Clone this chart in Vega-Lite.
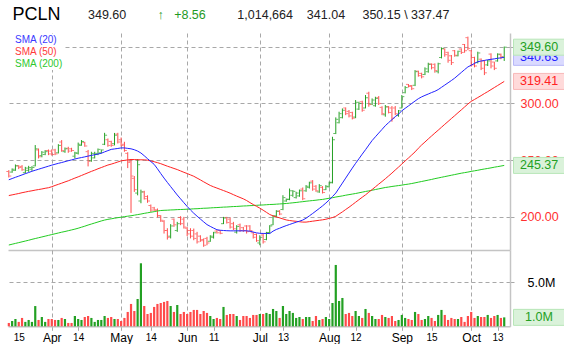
{
"$schema": "https://vega.github.io/schema/vega-lite/v6.json",
"background": "white",
"padding": {"left": 4, "top": 6, "right": 0, "bottom": 0},
"config": {"font": "Liberation Sans", "view": {"stroke": null}},
"title": {"text": "PCLN", "fontSize": 18, "fontWeight": "normal", "color": "#000000", "anchor": "start", "frame": "group", "dx": 4.5, "offset": -15.5, "font": "Liberation Sans"},
"spacing": 0,
"datasets": {"px": [
{"d":"2010-03-15","o":240,"h":241.2,"l":234.7,"c":236,"v":380000,"s20":232.7,"s50":218.8,"s200":175.2},
{"d":"2010-03-16","o":239.5,"h":242.7,"l":238.9,"c":242,"v":600000,"s20":233.8,"s50":219.4,"s200":175.9},
{"d":"2010-03-17","o":241,"h":246.2,"l":240.6,"c":245,"v":830000,"s20":234.9,"s50":220,"s200":176.6},
{"d":"2010-03-18","o":245,"h":245.6,"l":242.1,"c":243.5,"v":500000,"s20":235.9,"s50":220.6,"s200":177.3},
{"d":"2010-03-19","o":244.5,"h":245.6,"l":240.6,"c":241.5,"v":950000,"s20":237,"s50":221.3,"s200":178},
{"d":"2010-03-22","o":239,"h":244.1,"l":238.3,"c":243,"v":500000,"s20":238.1,"s50":221.9,"s200":178.7},
{"d":"2010-03-23","o":241,"h":245,"l":239.7,"c":243.5,"v":720000,"s20":239.1,"s50":222.5,"s200":179.4},
{"d":"2010-03-24","o":242,"h":244.7,"l":240.6,"c":243.5,"v":500000,"s20":240.2,"s50":223,"s200":180.2},
{"d":"2010-03-25","o":245,"h":263.3,"l":244.5,"c":260,"v":2300000,"s20":241.1,"s50":223.6,"s200":180.9},
{"d":"2010-03-26","o":259,"h":260.3,"l":251.5,"c":253,"v":720000,"s20":242,"s50":224.1,"s200":181.6},
{"d":"2010-03-29","o":254,"h":258,"l":252.5,"c":257,"v":1060000,"s20":242.9,"s50":224.6,"s200":182.3},
{"d":"2010-03-30","o":255,"h":258.9,"l":254.4,"c":257.5,"v":500000,"s20":243.8,"s50":225.2,"s200":183},
{"d":"2010-03-31","o":258.5,"h":259.4,"l":254.4,"c":255.5,"v":830000,"s20":244.7,"s50":225.7,"s200":183.7},
{"d":"2010-04-01","o":258,"h":259.5,"l":254,"c":255,"v":830000,"s20":245.6,"s50":226.6,"s200":184.4},
{"d":"2010-04-05","o":259,"h":260,"l":254.4,"c":255.5,"v":720000,"s20":246.4,"s50":227.7,"s200":185.1},
{"d":"2010-04-06","o":256.5,"h":264.1,"l":255.9,"c":263,"v":720000,"s20":247.2,"s50":228.7,"s200":185.8},
{"d":"2010-04-07","o":266,"h":267.7,"l":257.4,"c":258.5,"v":950000,"s20":247.9,"s50":229.7,"s200":186.5},
{"d":"2010-04-08","o":257.5,"h":261.2,"l":256.5,"c":260,"v":830000,"s20":248.7,"s50":230.8,"s200":187.1},
{"d":"2010-04-09","o":260.5,"h":261.8,"l":256.5,"c":258,"v":380000,"s20":249.5,"s50":231.8,"s200":187.8},
{"d":"2010-04-12","o":260,"h":260.9,"l":257.4,"c":258.5,"v":380000,"s20":250.2,"s50":233,"s200":188.5},
{"d":"2010-04-13","o":253.5,"h":257.4,"l":251.5,"c":256.5,"v":1170000,"s20":251,"s50":234.2,"s200":189.2},
{"d":"2010-04-14","o":256,"h":265.5,"l":255,"c":264,"v":830000,"s20":251.7,"s50":235.3,"s200":190},
{"d":"2010-04-15","o":263,"h":267.7,"l":262.7,"c":266.5,"v":720000,"s20":252.3,"s50":236.5,"s200":190.9},
{"d":"2010-04-16","o":265.5,"h":266.2,"l":261.8,"c":262.5,"v":1060000,"s20":252.9,"s50":237.7,"s200":191.8},
{"d":"2010-04-19","o":257.5,"h":259,"l":244.5,"c":249,"v":1170000,"s20":253.6,"s50":238.9,"s200":192.8},
{"d":"2010-04-20","o":249.5,"h":257.4,"l":248.6,"c":256,"v":950000,"s20":254.2,"s50":240.1,"s200":193.7},
{"d":"2010-04-21","o":252,"h":257.4,"l":251.5,"c":256,"v":500000,"s20":254.8,"s50":241.2,"s200":194.6},
{"d":"2010-04-22","o":255,"h":260.3,"l":254.4,"c":259.5,"v":720000,"s20":255.4,"s50":242.4,"s200":195.5},
{"d":"2010-04-23","o":256.5,"h":259.4,"l":255.9,"c":259,"v":720000,"s20":256.1,"s50":243.5,"s200":196.4},
{"d":"2010-04-26","o":264,"h":274.1,"l":263.3,"c":272,"v":1170000,"s20":257.3,"s50":244.6,"s200":197.2},
{"d":"2010-04-27","o":268,"h":269.1,"l":261.8,"c":263,"v":950000,"s20":258.4,"s50":245.7,"s200":197.8},
{"d":"2010-04-28","o":266.5,"h":267.1,"l":261.8,"c":263,"v":1060000,"s20":259.5,"s50":246.5,"s200":198.3},
{"d":"2010-04-29","o":264.5,"h":274,"l":263,"c":272,"v":830000,"s20":259.9,"s50":247.4,"s200":198.8},
{"d":"2010-04-30","o":273,"h":274.1,"l":264.7,"c":266,"v":830000,"s20":260.3,"s50":248.4,"s200":199.3},
{"d":"2010-05-03","o":268,"h":270,"l":262,"c":263,"v":600000,"s20":260.8,"s50":249.4,"s200":199.7},
{"d":"2010-05-04","o":264,"h":266.2,"l":257.4,"c":258.5,"v":950000,"s20":260.8,"s50":249.8,"s200":200.2},
{"d":"2010-05-05","o":256,"h":257,"l":243,"c":248,"v":1630000,"s20":260.4,"s50":250.2,"s200":200.6},
{"d":"2010-05-06","o":249,"h":251,"l":203.5,"c":236,"v":2540000,"s20":260,"s50":250.6,"s200":201},
{"d":"2010-05-07","o":234,"h":236,"l":222,"c":224,"v":1740000,"s20":259.2,"s50":250.5,"s200":201.5},
{"d":"2010-05-10","o":221,"h":251,"l":219,"c":246,"v":3100000,"s20":258,"s50":250.4,"s200":202},
{"d":"2010-05-11","o":214,"h":224,"l":212,"c":222,"v":7160000,"s20":256.3,"s50":250.3,"s200":202.5},
{"d":"2010-05-12","o":222,"h":223,"l":215.3,"c":216,"v":2310000,"s20":253.9,"s50":250.3,"s200":203.1},
{"d":"2010-05-13","o":218,"h":219,"l":212.4,"c":214,"v":1400000,"s20":251.3,"s50":250,"s200":203.6},
{"d":"2010-05-14","o":210,"h":210.9,"l":204.4,"c":206,"v":1520000,"s20":248.8,"s50":249.3,"s200":204.1},
{"d":"2010-05-17","o":208,"h":208.8,"l":205.3,"c":206,"v":2200000,"s20":246.3,"s50":248.6,"s200":204.6},
{"d":"2010-05-18","o":206,"h":207.4,"l":199.4,"c":201,"v":2540000,"s20":242.4,"s50":247.8,"s200":205.2},
{"d":"2010-05-19","o":201,"h":201.5,"l":195.6,"c":197,"v":2650000,"s20":238.2,"s50":246.9,"s200":205.6},
{"d":"2010-05-20","o":196,"h":197.1,"l":185.3,"c":188,"v":2770000,"s20":234.2,"s50":245.8,"s200":205.8},
{"d":"2010-05-21","o":188,"h":190,"l":180,"c":182,"v":2880000,"s20":230.4,"s50":244.7,"s200":205.9},
{"d":"2010-05-24","o":183,"h":193.6,"l":181,"c":192,"v":2310000,"s20":226.7,"s50":243.7,"s200":206.1},
{"d":"2010-05-25","o":198,"h":198.6,"l":191.2,"c":193,"v":1630000,"s20":223,"s50":242.7,"s200":206.2},
{"d":"2010-05-26","o":188,"h":195.6,"l":186.8,"c":194,"v":2420000,"s20":219.3,"s50":241.7,"s200":206.4},
{"d":"2010-05-27","o":199.5,"h":200.6,"l":192.7,"c":194,"v":1400000,"s20":215.9,"s50":240.5,"s200":206.5},
{"d":"2010-05-28","o":198,"h":200,"l":189.7,"c":191,"v":1630000,"s20":212.5,"s50":239.3,"s200":206.6},
{"d":"2010-06-01","o":190,"h":191,"l":183,"c":185,"v":1400000,"s20":209.2,"s50":238.2,"s200":206.8},
{"d":"2010-06-02","o":188,"h":190,"l":181,"c":183,"v":1630000,"s20":206.1,"s50":237,"s200":206.9},
{"d":"2010-06-03","o":188,"h":189.7,"l":179.4,"c":181,"v":1860000,"s20":203.2,"s50":235.8,"s200":207.1},
{"d":"2010-06-04","o":185,"h":186.8,"l":176.5,"c":178,"v":1860000,"s20":200.6,"s50":234.2,"s200":207.2},
{"d":"2010-06-07","o":183,"h":183.8,"l":178,"c":179,"v":1400000,"s20":198.1,"s50":232.6,"s200":207.4},
{"d":"2010-06-08","o":180,"h":181,"l":173.6,"c":175,"v":1740000,"s20":195.6,"s50":230.9,"s200":207.6},
{"d":"2010-06-09","o":181,"h":182.4,"l":175,"c":177,"v":1520000,"s20":193.2,"s50":229.3,"s200":207.7},
{"d":"2010-06-10","o":178.5,"h":183.8,"l":178,"c":183,"v":1170000,"s20":191.6,"s50":227.7,"s200":207.9},
{"d":"2010-06-11","o":182,"h":186.8,"l":180.9,"c":186,"v":830000,"s20":190.1,"s50":226.5,"s200":208.1},
{"d":"2010-06-14","o":187.5,"h":188.3,"l":185.3,"c":186,"v":950000,"s20":188.7,"s50":225.4,"s200":208.2},
{"d":"2010-06-15","o":188,"h":188.3,"l":184.7,"c":185.5,"v":830000,"s20":188.2,"s50":224.3,"s200":208.4},
{"d":"2010-06-16","o":194,"h":200,"l":193.6,"c":199,"v":2200000,"s20":188,"s50":223.2,"s200":208.6},
{"d":"2010-06-17","o":199.5,"h":200,"l":194.1,"c":195,"v":1290000,"s20":187.8,"s50":222.1,"s200":208.7},
{"d":"2010-06-18","o":198,"h":199.4,"l":189.7,"c":191,"v":1400000,"s20":187.7,"s50":220.9,"s200":208.9},
{"d":"2010-06-21","o":194,"h":195.6,"l":188.3,"c":189.5,"v":1400000,"s20":187.7,"s50":219.6,"s200":209.1},
{"d":"2010-06-22","o":186.5,"h":192.7,"l":185.3,"c":191.5,"v":1170000,"s20":187.7,"s50":218.3,"s200":209.2},
{"d":"2010-06-23","o":193,"h":194.1,"l":186.8,"c":188,"v":720000,"s20":187.7,"s50":217.1,"s200":209.4},
{"d":"2010-06-24","o":190.5,"h":191.2,"l":186.8,"c":188,"v":1170000,"s20":187.7,"s50":215.9,"s200":209.6},
{"d":"2010-06-25","o":192,"h":192.7,"l":185.3,"c":187,"v":1170000,"s20":187.7,"s50":214.4,"s200":209.7},
{"d":"2010-06-28","o":192,"h":192.7,"l":186.8,"c":188,"v":950000,"s20":187.4,"s50":212.6,"s200":209.9},
{"d":"2010-06-29","o":186,"h":186.8,"l":180.9,"c":182,"v":1290000,"s20":186.6,"s50":210.9,"s200":210},
{"d":"2010-06-30","o":184.5,"h":185.3,"l":178,"c":179,"v":1290000,"s20":185.9,"s50":209.3,"s200":210.2},
{"d":"2010-07-01","o":177,"h":183.8,"l":175,"c":182,"v":1400000,"s20":185.5,"s50":207.7,"s200":210.4},
{"d":"2010-07-02","o":184,"h":185.3,"l":176.5,"c":178,"v":1400000,"s20":185.4,"s50":205.9,"s200":210.5},
{"d":"2010-07-06","o":180,"h":186.8,"l":179.4,"c":186,"v":1520000,"s20":185.4,"s50":204,"s200":210.7},
{"d":"2010-07-07","o":186,"h":192.7,"l":185.3,"c":192,"v":1400000,"s20":185.3,"s50":202.1,"s200":210.9},
{"d":"2010-07-08","o":193,"h":201.5,"l":192.7,"c":200,"v":1970000,"s20":187.4,"s50":200.9,"s200":211},
{"d":"2010-07-09","o":201,"h":205.9,"l":200,"c":205,"v":1740000,"s20":188.9,"s50":200,"s200":211.2},
{"d":"2010-07-12","o":205,"h":205.9,"l":201.5,"c":202.5,"v":950000,"s20":190,"s50":199.1,"s200":211.4},
{"d":"2010-07-13","o":206.5,"h":219.1,"l":205.9,"c":217,"v":2310000,"s20":191.2,"s50":198.2,"s200":211.6},
{"d":"2010-07-14","o":214,"h":216.2,"l":213.3,"c":215.5,"v":1400000,"s20":192.3,"s50":197.3,"s200":211.8},
{"d":"2010-07-15","o":215.5,"h":225,"l":214.7,"c":223,"v":1740000,"s20":193.3,"s50":196.8,"s200":212.1},
{"d":"2010-07-16","o":219,"h":223.6,"l":217.7,"c":222.5,"v":1520000,"s20":194.3,"s50":196.4,"s200":212.4},
{"d":"2010-07-19","o":217,"h":222.1,"l":216.2,"c":221,"v":950000,"s20":195.3,"s50":196.1,"s200":212.7},
{"d":"2010-07-20","o":218.5,"h":224.1,"l":217.7,"c":223,"v":1060000,"s20":196.2,"s50":195.7,"s200":213.1},
{"d":"2010-07-21","o":224.5,"h":225.9,"l":214.7,"c":216,"v":830000,"s20":197.2,"s50":195.4,"s200":213.4},
{"d":"2010-07-22","o":223,"h":228,"l":222.1,"c":227,"v":1060000,"s20":198.8,"s50":195.4,"s200":213.8},
{"d":"2010-07-23","o":226,"h":231,"l":225,"c":230,"v":1060000,"s20":200.9,"s50":195.8,"s200":214.1},
{"d":"2010-07-26","o":231.5,"h":232.4,"l":223,"c":224.5,"v":600000,"s20":203,"s50":196.2,"s200":214.4},
{"d":"2010-07-27","o":227,"h":228,"l":222.1,"c":223,"v":1170000,"s20":205.2,"s50":196.6,"s200":214.7},
{"d":"2010-07-28","o":222,"h":228.9,"l":221.2,"c":227.5,"v":720000,"s20":207.4,"s50":197,"s200":215.1},
{"d":"2010-07-29","o":226,"h":227.1,"l":220.6,"c":221.5,"v":830000,"s20":209.7,"s50":197.4,"s200":215.4},
{"d":"2010-07-30","o":224,"h":228,"l":223.6,"c":227,"v":1060000,"s20":212.2,"s50":197.9,"s200":215.9},
{"d":"2010-08-02","o":226.5,"h":231,"l":225.9,"c":230,"v":830000,"s20":214.9,"s50":198.7,"s200":216.4},
{"d":"2010-08-03","o":230.5,"h":270.6,"l":229.5,"c":268,"v":2650000,"s20":217.9,"s50":199.4,"s200":216.9},
{"d":"2010-08-04","o":273.5,"h":287.7,"l":273,"c":286,"v":6970000,"s20":221,"s50":200.5,"s200":217.5},
{"d":"2010-08-05","o":283,"h":292.7,"l":282.4,"c":291,"v":2880000,"s20":225.4,"s50":202.5,"s200":218},
{"d":"2010-08-06","o":287.5,"h":295.6,"l":286.8,"c":294,"v":3220000,"s20":229.8,"s50":204.4,"s200":218.5},
{"d":"2010-08-09","o":296,"h":296.5,"l":289.7,"c":291,"v":1400000,"s20":234.2,"s50":206.5,"s200":219.1},
{"d":"2010-08-10","o":293,"h":294.2,"l":287.7,"c":289,"v":1520000,"s20":238.6,"s50":208.5,"s200":219.6},
{"d":"2010-08-11","o":292,"h":292.7,"l":285.9,"c":287,"v":1170000,"s20":243,"s50":210.7,"s200":220.1},
{"d":"2010-08-12","o":288,"h":303,"l":287,"c":301,"v":1740000,"s20":247.2,"s50":212.9,"s200":220.6},
{"d":"2010-08-13","o":295,"h":301.5,"l":294.2,"c":300,"v":1170000,"s20":251.2,"s50":215.1,"s200":221.2},
{"d":"2010-08-16","o":301.5,"h":302.4,"l":292.7,"c":294,"v":950000,"s20":255.3,"s50":217.3,"s200":221.8},
{"d":"2010-08-17","o":296,"h":307.4,"l":295.6,"c":305,"v":1970000,"s20":259.2,"s50":219.4,"s200":222.4},
{"d":"2010-08-18","o":309,"h":310.3,"l":297.1,"c":299,"v":1520000,"s20":263.3,"s50":221.8,"s200":222.9},
{"d":"2010-08-19","o":299.5,"h":304.4,"l":298.6,"c":303,"v":1170000,"s20":267.3,"s50":224.1,"s200":223.5},
{"d":"2010-08-20","o":298,"h":305.9,"l":297.1,"c":304.5,"v":830000,"s20":270.6,"s50":226.5,"s200":224.1},
{"d":"2010-08-23","o":305,"h":306.5,"l":298.6,"c":300,"v":830000,"s20":273.9,"s50":228.9,"s200":224.7},
{"d":"2010-08-24","o":296.5,"h":297.5,"l":289.7,"c":291,"v":1290000,"s20":277.1,"s50":231.2,"s200":225.3},
{"d":"2010-08-25","o":290,"h":298.6,"l":288.3,"c":297,"v":1060000,"s20":280.4,"s50":233.6,"s200":225.9},
{"d":"2010-08-26","o":297,"h":297.7,"l":291.2,"c":292,"v":950000,"s20":283.1,"s50":236.1,"s200":226.3},
{"d":"2010-08-27","o":296,"h":297.7,"l":283.9,"c":287,"v":1170000,"s20":285.7,"s50":238.6,"s200":226.8},
{"d":"2010-08-30","o":296,"h":297.7,"l":289.7,"c":291,"v":600000,"s20":288.3,"s50":241.3,"s200":227.2},
{"d":"2010-08-31","o":289.5,"h":294.2,"l":288.3,"c":293.5,"v":720000,"s20":290.6,"s50":243.9,"s200":227.6},
{"d":"2010-09-01","o":296,"h":307.4,"l":295.6,"c":306,"v":1290000,"s20":293.5,"s50":246.6,"s200":228},
{"d":"2010-09-02","o":309.5,"h":315.3,"l":308.9,"c":314,"v":950000,"s20":295.7,"s50":249.3,"s200":228.5},
{"d":"2010-09-03","o":316.8,"h":317.1,"l":314.1,"c":315,"v":830000,"s20":297.8,"s50":251.9,"s200":228.9},
{"d":"2010-09-07","o":315.8,"h":316.2,"l":311.8,"c":313,"v":720000,"s20":300,"s50":254.6,"s200":229.4},
{"d":"2010-09-08","o":316,"h":329.4,"l":315.3,"c":328,"v":1630000,"s20":302.1,"s50":257.3,"s200":230},
{"d":"2010-09-09","o":328.5,"h":328.9,"l":323.6,"c":324.5,"v":1400000,"s20":304.2,"s50":260.5,"s200":230.6},
{"d":"2010-09-10","o":326.5,"h":327.1,"l":322.1,"c":323.5,"v":720000,"s20":305.8,"s50":263.4,"s200":231.2},
{"d":"2010-09-13","o":325.5,"h":331.8,"l":325,"c":330.5,"v":830000,"s20":307.1,"s50":266,"s200":231.8},
{"d":"2010-09-14","o":328,"h":335.9,"l":327.1,"c":334.5,"v":1170000,"s20":308.3,"s50":268.7,"s200":232.4},
{"d":"2010-09-15","o":334.8,"h":335.3,"l":330,"c":331.5,"v":950000,"s20":309.6,"s50":271.3,"s200":233},
{"d":"2010-09-16","o":334.5,"h":335.3,"l":327.1,"c":329,"v":600000,"s20":310.7,"s50":273.9,"s200":233.7},
{"d":"2010-09-17","o":328,"h":335.9,"l":326.5,"c":335,"v":1290000,"s20":312.2,"s50":276.4,"s200":234.3},
{"d":"2010-09-20","o":340.5,"h":349.4,"l":339.7,"c":348.5,"v":1860000,"s20":314.2,"s50":279,"s200":234.9},
{"d":"2010-09-21","o":348,"h":348.6,"l":341.2,"c":343,"v":1290000,"s20":316.2,"s50":281.6,"s200":235.5},
{"d":"2010-09-22","o":345,"h":345.6,"l":335.9,"c":338,"v":720000,"s20":318.2,"s50":284.1,"s200":236.1},
{"d":"2010-09-23","o":342,"h":342.7,"l":333.9,"c":336,"v":950000,"s20":320.2,"s50":286.7,"s200":236.7},
{"d":"2010-09-24","o":346.5,"h":347.1,"l":341.2,"c":342.5,"v":830000,"s20":322.3,"s50":289.2,"s200":237.3},
{"d":"2010-09-27","o":342,"h":346.5,"l":341.5,"c":346,"v":830000,"s20":324.8,"s50":291.8,"s200":237.9},
{"d":"2010-09-28","o":348,"h":348.6,"l":343.6,"c":345,"v":1060000,"s20":327.3,"s50":294.3,"s200":238.5},
{"d":"2010-09-29","o":352,"h":352.4,"l":344.7,"c":346.5,"v":500000,"s20":329.8,"s50":296.9,"s200":239},
{"d":"2010-09-30","o":358,"h":358.9,"l":347.1,"c":348.5,"v":1170000,"s20":332.2,"s50":299.5,"s200":239.5},
{"d":"2010-10-01","o":346.5,"h":347.1,"l":332.4,"c":334,"v":1630000,"s20":333.7,"s50":301.8,"s200":240.1},
{"d":"2010-10-04","o":340.5,"h":341.2,"l":331.8,"c":333,"v":950000,"s20":335.3,"s50":303.5,"s200":240.6},
{"d":"2010-10-05","o":336,"h":345.6,"l":335.3,"c":344.5,"v":1170000,"s20":336.8,"s50":305.2,"s200":241.1},
{"d":"2010-10-06","o":339,"h":339.7,"l":329.4,"c":331,"v":1060000,"s20":337.4,"s50":306.9,"s200":241.7},
{"d":"2010-10-07","o":337.5,"h":338.3,"l":325,"c":327,"v":1060000,"s20":337.9,"s50":308.7,"s200":242.2},
{"d":"2010-10-08","o":334,"h":338.3,"l":333,"c":337.5,"v":1290000,"s20":338.5,"s50":310.4,"s200":242.7},
{"d":"2010-10-11","o":343.5,"h":344.2,"l":330.9,"c":333,"v":950000,"s20":338.9,"s50":312.2,"s200":243.2},
{"d":"2010-10-12","o":336.5,"h":336.8,"l":329.4,"c":331,"v":1170000,"s20":339.3,"s50":314,"s200":243.8},
{"d":"2010-10-13","o":337.5,"h":344.2,"l":336.8,"c":343.5,"v":1290000,"s20":339.8,"s50":315.8,"s200":244.3},
{"d":"2010-10-14","o":343,"h":344,"l":339,"c":341.04,"v":950000,"s20":340.2,"s50":317.6,"s200":244.8},
{"d":"2010-10-15","o":341.04,"h":350.15,"l":337.47,"c":349.6,"v":1014664,"s20":340.63,"s50":319.41,"s200":245.37}
]},
"vconcat": [
{
"width": 502,
"height": 217,
"data": {"name": "px"},
"title": {"text": "349.60\u00a0\u00a0\u00a0\u00a0\u00a0\u00a0\u00a0\u00a0\u00a0\u00a0\u00a0\u00a0\u00a0\u00a0\u00a0\u00a0\u00a0\u00a0\u00a0\u00a0\u00a0\u00a0\u00a0\u00a0\u00a0\u00a0\u00a0\u00a0\u00a0\u00a0\u00a0\u00a01,014,664\u00a0\u00a0\u00a0\u00a0341.04\u00a0\u00a0\u00a0\u00a0\u00a0350.15 \\ 337.47", "subtitle": "\u200b\u00a0\u00a0\u00a0\u00a0\u00a0\u00a0\u00a0\u00a0\u00a0\u00a0\u00a0\u00a0\u00a0\u00a0\u00a0\u00a0\u00a0\u00a0\u00a0\u00a0\u2191\u00a0\u00a0\u00a0+8.56", "anchor": "start", "frame": "group", "dx": 80, "offset": 12, "fontSize": 12.5, "fontWeight": "normal", "color": "#222222", "font": "Liberation Sans", "subtitleFont": "Liberation Sans", "subtitleFontSize": 12.5, "subtitleColor": "#1f9a1f", "subtitlePadding": -12.5},
"encoding": {
"x": {"field": "d", "type": "ordinal", "title": null, "scale": {"type": "point", "padding": 2.47, "align": 0.125},
"axis": {"values": ["2010-04-01","2010-05-03","2010-06-01","2010-07-01","2010-08-02","2010-09-01","2010-10-01"], "labels": false, "ticks": false, "domain": true, "domainColor": "#c4c4c4", "domainWidth": 1.5, "grid": true, "gridColor": "#a8a8a8", "gridDash": [4, 3], "gridWidth": 1}}
},
"layer": [
{"mark": {"type": "rule", "strokeWidth": 1},
"encoding": {
"y": {"field": "l", "type": "quantitative", "title": null, "scale": {"domain": [170.8, 362.1], "nice": false, "zero": false},
"axis": {"orient": "right", "values": [200, 250, 300, 350], "format": ".2f", "labelColor": "#ff3030", "labelFontSize": 12.5, "labelFont": "Liberation Sans", "labelPadding": 6, "tickSize": 4, "tickColor": "#a8a8a8", "domainColor": "#c4c4c4", "domainWidth": 1.5, "grid": true, "gridColor": "#a8a8a8", "gridDash": [4, 3], "gridWidth": 1}},
"y2": {"field": "h"},
"color": {"condition": {"test": "datum.c >= datum.o", "value": "#23a023"}, "value": "#ff4a4a"}}},
{"mark": {"type": "tick", "size": 2, "thickness": 1, "xOffset": -1.5},
"encoding": {"y": {"field": "o", "type": "quantitative", "title": null},
"color": {"condition": {"test": "datum.c >= datum.o", "value": "#23a023"}, "value": "#ff4a4a"}}},
{"mark": {"type": "tick", "size": 2, "thickness": 1, "xOffset": 1.5},
"encoding": {"y": {"field": "c", "type": "quantitative", "title": null},
"color": {"condition": {"test": "datum.c >= datum.o", "value": "#23a023"}, "value": "#ff4a4a"}}},
{"transform": [{"fold": ["s200", "s50", "s20"], "as": ["k", "sv"]}],
"mark": {"type": "line", "strokeWidth": 1},
"encoding": {"y": {"field": "sv", "type": "quantitative", "title": null},
"color": {"field": "k", "type": "nominal", "scale": {"domain": ["s20", "s50", "s200"], "range": ["#2323ff", "#ff2323", "#22cc22"]},
"legend": {"orient": "none", "legendX": -4, "legendY": 1, "title": null, "symbolSize": 0, "symbolStrokeWidth": 0, "symbolOpacity": 0, "labelFontSize": 10, "labelFont": "Liberation Sans", "labelOffset": 0, "rowPadding": 2, "padding": 1, "fillColor": "white", "labelLimit": 120,
"labelExpr": "datum.value == 's20' ? 'SMA (20)' : datum.value == 's50' ? 'SMA (50)' : 'SMA (200)'",
"labelColor": {"expr": "datum.value == 's20' ? '#3a3aff' : datum.value == 's50' ? '#ff3a3a' : '#2ec82e'"}}}}},
{"transform": [{"filter": "datum.d == '2010-10-15'"}, {"fold": ["s200", "s50", "s20"], "as": ["k", "sv"]}],
"mark": {"type": "rect", "xOffset": 3.5, "x2Offset": 62, "yOffset": -8, "y2Offset": 8, "strokeWidth": 1},
"encoding": {"x": {"value": "width"}, "x2": {"value": "width"},
"y": {"field": "sv", "type": "quantitative", "title": null}, "y2": {"field": "sv"},
"fill": {"condition": [{"test": "datum.k == 's20'", "value": "#dadaff"}, {"test": "datum.k == 's50'", "value": "#ffdada"}], "value": "#daf2da"},
"stroke": {"condition": [{"test": "datum.k == 's20'", "value": "#b8b8f8"}, {"test": "datum.k == 's50'", "value": "#f8b8b8"}], "value": "#b8e6b8"}}},
{"transform": [{"filter": "datum.d == '2010-10-15'"}, {"fold": ["s200", "s50", "s20"], "as": ["k", "sv"]}],
"mark": {"type": "text", "align": "left", "baseline": "middle", "dx": 10, "fontSize": 12.5, "font": "Liberation Sans"},
"encoding": {"x": {"value": "width"},
"y": {"field": "sv", "type": "quantitative", "title": null},
"text": {"field": "sv", "type": "quantitative", "format": ".2f"},
"color": {"condition": [{"test": "datum.k == 's20'", "value": "#2323ff"}, {"test": "datum.k == 's50'", "value": "#ff2323"}], "value": "#23a023"}}},
{"transform": [{"filter": "datum.d == '2010-10-15'"}],
"mark": {"type": "rect", "xOffset": 3.5, "x2Offset": 62, "yOffset": -8, "y2Offset": 8, "strokeWidth": 1, "fill": "#daf2da", "stroke": "#b8e6b8"},
"encoding": {"x": {"value": "width"}, "x2": {"value": "width"},
"y": {"field": "c", "type": "quantitative", "title": null}, "y2": {"field": "c"}}},
{"transform": [{"filter": "datum.d == '2010-10-15'"}],
"mark": {"type": "text", "align": "left", "baseline": "middle", "dx": 10, "fontSize": 12.5, "font": "Liberation Sans", "color": "#23a023"},
"encoding": {"x": {"value": "width"},
"y": {"field": "c", "type": "quantitative", "title": null},
"text": {"field": "c", "type": "quantitative", "format": ".2f"}}}
]
},
{
"width": 502,
"height": 76.3,
"data": {"name": "px"},
"encoding": {
"x": {"field": "d", "type": "ordinal", "title": null, "scale": {"type": "point", "padding": 2.47, "align": 0.125},
"axis": {"values": ["2010-03-15","2010-04-01","2010-04-14","2010-05-03","2010-05-14","2010-06-01","2010-06-11","2010-07-01","2010-07-13","2010-08-02","2010-08-12","2010-09-01","2010-09-15","2010-10-01","2010-10-13"],
"labelExpr": "toNumber(substring(datum.value,8,10)) < 5 ? ['Jan','Feb','Mar','Apr','May','Jun','Jul','Aug','Sep','Oct','Nov','Dec'][toNumber(substring(datum.value,5,7))-1] : '' + toNumber(substring(datum.value,8,10))",
"labelAngle": 0, "labelOverlap": false, "labelFont": "Liberation Sans", "labelColor": "#000000",
"labelFontSize": {"condition": {"test": "toNumber(substring(datum.value,8,10)) < 5", "value": 12}, "value": 10},
"labelOffset": {"condition": {"test": "datum.value == '2010-03-15'", "value": 10}, "value": 0},
"tickOpacity": {"condition": {"test": "datum.value == '2010-03-15'", "value": 0}, "value": 1},
"labelPadding": 2, "tickSize": 4, "tickColor": "#a8a8a8", "domainColor": "#c4c4c4", "domainWidth": 1.5,
"grid": true, "gridColor": "#a8a8a8", "gridDash": [4, 3], "gridWidth": 1,
"gridOpacity": {"condition": {"test": "toNumber(substring(datum.value,8,10)) < 5", "value": 1}, "value": 0}}}
},
"layer": [
{"mark": {"type": "bar", "width": 2.2},
"encoding": {
"y": {"field": "v", "type": "quantitative", "title": null, "scale": {"domain": [0, 8670000], "nice": false},
"axis": {"orient": "right", "values": [5000000], "format": ".2s", "labelColor": "#000000", "labelFontSize": 12.5, "labelFont": "Liberation Sans", "labelPadding": 13, "tickSize": 4, "tickColor": "#a8a8a8", "domainColor": "#c4c4c4", "domainWidth": 1.5, "grid": true, "gridColor": "#a8a8a8", "gridDash": [4, 3], "gridWidth": 1}},
"color": {"condition": {"test": "datum.c >= datum.o", "value": "#23a023"}, "value": "#ff4a4a"}}},
{"transform": [{"filter": "datum.d == '2010-10-15'"}],
"mark": {"type": "rect", "xOffset": 3.5, "x2Offset": 62, "yOffset": -8, "y2Offset": 8, "strokeWidth": 1, "fill": "#daf2da", "stroke": "#b8e6b8"},
"encoding": {"x": {"value": "width"}, "x2": {"value": "width"},
"y": {"field": "v", "type": "quantitative", "title": null}, "y2": {"field": "v"}}},
{"transform": [{"filter": "datum.d == '2010-10-15'"}],
"mark": {"type": "text", "align": "left", "baseline": "middle", "dx": 15, "fontSize": 12.5, "font": "Liberation Sans", "color": "#23a023"},
"encoding": {"x": {"value": "width"},
"y": {"field": "v", "type": "quantitative", "title": null},
"text": {"field": "v", "type": "quantitative", "format": ".2s"}}}
]
}
]
}
